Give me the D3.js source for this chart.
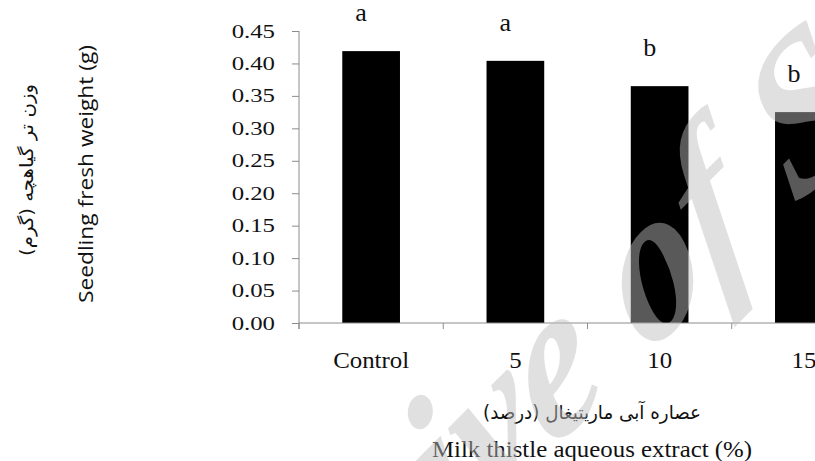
<!DOCTYPE html>
<html lang="en">
<head>
    <meta charset="UTF-8">
    <title>Seedling fresh weight</title>
    <script src="https://d3js.org/d3.v7.min.js"></script>
    <style>
        body { margin: 0; background: #fff; }
        svg { display: block; }
    </style>
</head>
<body>
    <div id="chart"></div>

    <script>
        // Data
        const categories = ["Control", "5", "10", "15"];
        const weights = [0.419, 0.404, 0.365, 0.325];
        const letters = ["a", "a", "b", "b"];
        const yTicks = [0, 0.05, 0.10, 0.15, 0.20, 0.25, 0.30, 0.35, 0.40, 0.45];

        const yTitleEn = "Seedling fresh weight (g)";
        const yTitleFa = "وزن تر گیاهچه (گرم)";
        const xTitleEn = "Milk thistle aqueous extract (%)";
        const xTitleFa = "عصاره آبی ماریتیغال (درصد)";
        const watermark = "Archive of SID";

        const W = 815, H = 461;
        const serif = "'Liberation Serif', 'Times New Roman', serif";
        const axisGrey = "#8c8c8c";

        const svg = d3.select("#chart")
            .append("svg")
            .attr("width", W)
            .attr("height", H);

        // the plot runs off the right edge, so the 4th band is cut
        const x = d3.scaleBand().domain(categories).range([299, 876]).padding(0);
        const y = d3.scaleLinear().domain([0, 0.45]).range([323, 31]);
        const barW = x.bandwidth() * 0.4;

        // widen text the way the original (stretched) figure shows it
        function stretch(sel, k) {
            sel.each(function () {
                const w = this.getComputedTextLength();
                d3.select(this)
                    .attr("textLength", w * k)
                    .attr("lengthAdjust", "spacingAndGlyphs");
            });
        }

        // bars
        svg.append("g")
            .selectAll("rect")
            .data(weights)
            .join("rect")
            .attr("x", (d, i) => x(categories[i]) + (x.bandwidth() - barW) / 2)
            .attr("y", d => y(d))
            .attr("width", barW)
            .attr("height", d => y(0) - y(d))
            .attr("fill", "#000");

        // y axis
        const yAxis = svg.append("g")
            .attr("transform", "translate(299,0)")
            .call(d3.axisLeft(y).tickValues(yTicks).tickFormat(d3.format(".2f"))
                .tickSize(7).tickPadding(17));
        yAxis.select(".domain").remove();
        yAxis.selectAll(".tick line").attr("stroke", axisGrey);
        yAxis.selectAll(".tick text")
            .attr("font-family", serif)
            .attr("font-size", 18.5)
            .attr("fill", "#111")
            .attr("dy", "0.33em")
            .call(stretch, 1.34);
        yAxis.append("line")
            .attr("x1", 0).attr("x2", 0)
            .attr("y1", y(0.45)).attr("y2", y(0) + 6)
            .attr("stroke", axisGrey);

        // x axis
        const xAxis = svg.append("g")
            .attr("transform", "translate(0," + y(0) + ")")
            .call(d3.axisBottom(x).tickSize(0).tickPadding(0));
        xAxis.select(".domain").remove();
        xAxis.append("line")
            .attr("x1", 299).attr("x2", W)
            .attr("stroke", axisGrey);
        xAxis.selectAll("line.bnd")
            .data(categories)
            .join("line")
            .attr("class", "bnd")
            .attr("x1", d => x(d)).attr("x2", d => x(d))
            .attr("y1", 0).attr("y2", 6)
            .attr("stroke", axisGrey);
        xAxis.selectAll(".tick text")
            .attr("font-family", serif)
            .attr("font-size", 23)
            .attr("fill", "#111")
            .attr("y", 45)
            .attr("dy", 0)
            .call(stretch, 1.08);

        // significance letters
        svg.append("g")
            .selectAll("text")
            .data(letters)
            .join("text")
            .attr("x", (d, i) => x(categories[i]) + x.bandwidth() / 2 - 10)
            .attr("y", (d, i) => y(weights[i]) - 30)
            .attr("text-anchor", "middle")
            .attr("font-family", serif)
            .attr("font-size", 26)
            .attr("fill", "#111")
            .text(d => d);

        // axis titles
        svg.append("text")
            .attr("transform", "translate(93,174) rotate(-90)")
            .attr("text-anchor", "middle")
            .attr("font-family", "'Open Sans', 'Noto Sans', sans-serif")
            .attr("font-size", 20)
            .attr("fill", "#111")
            .attr("textLength", 258)
            .attr("lengthAdjust", "spacingAndGlyphs")
            .text(yTitleEn);

        svg.append("text")
            .attr("transform", "translate(33,170) rotate(-90)")
            .attr("text-anchor", "middle")
            .attr("direction", "rtl")
            .attr("font-family", "'DejaVu Sans', sans-serif")
            .attr("font-size", 18)
            .attr("fill", "#111")
            .attr("textLength", 172)
            .attr("lengthAdjust", "spacingAndGlyphs")
            .text(yTitleFa);

        svg.append("text")
            .attr("x", 592).attr("y", 419)
            .attr("text-anchor", "middle")
            .attr("direction", "rtl")
            .attr("font-family", "'DejaVu Sans', sans-serif")
            .attr("font-size", 19)
            .attr("fill", "#111")
            .attr("textLength", 218)
            .attr("lengthAdjust", "spacingAndGlyphs")
            .text(xTitleFa);

        svg.append("text")
            .attr("x", 592).attr("y", 457)
            .attr("text-anchor", "middle")
            .attr("font-family", serif)
            .attr("font-size", 23)
            .attr("fill", "#111")
            .text(xTitleEn)
            .call(stretch, 1.08);

        // diagonal watermark over everything
        svg.append("text")
            .attr("transform", "translate(167,836) rotate(-45) skewX(-18)")
            .attr("font-family", serif)
            .attr("font-style", "italic")
            .attr("font-weight", "bold")
            .attr("font-size", 195)
            .attr("fill", "#bdbdbd")
            .attr("fill-opacity", 0.47)
            .text(watermark);
    </script>
</body>
</html>
